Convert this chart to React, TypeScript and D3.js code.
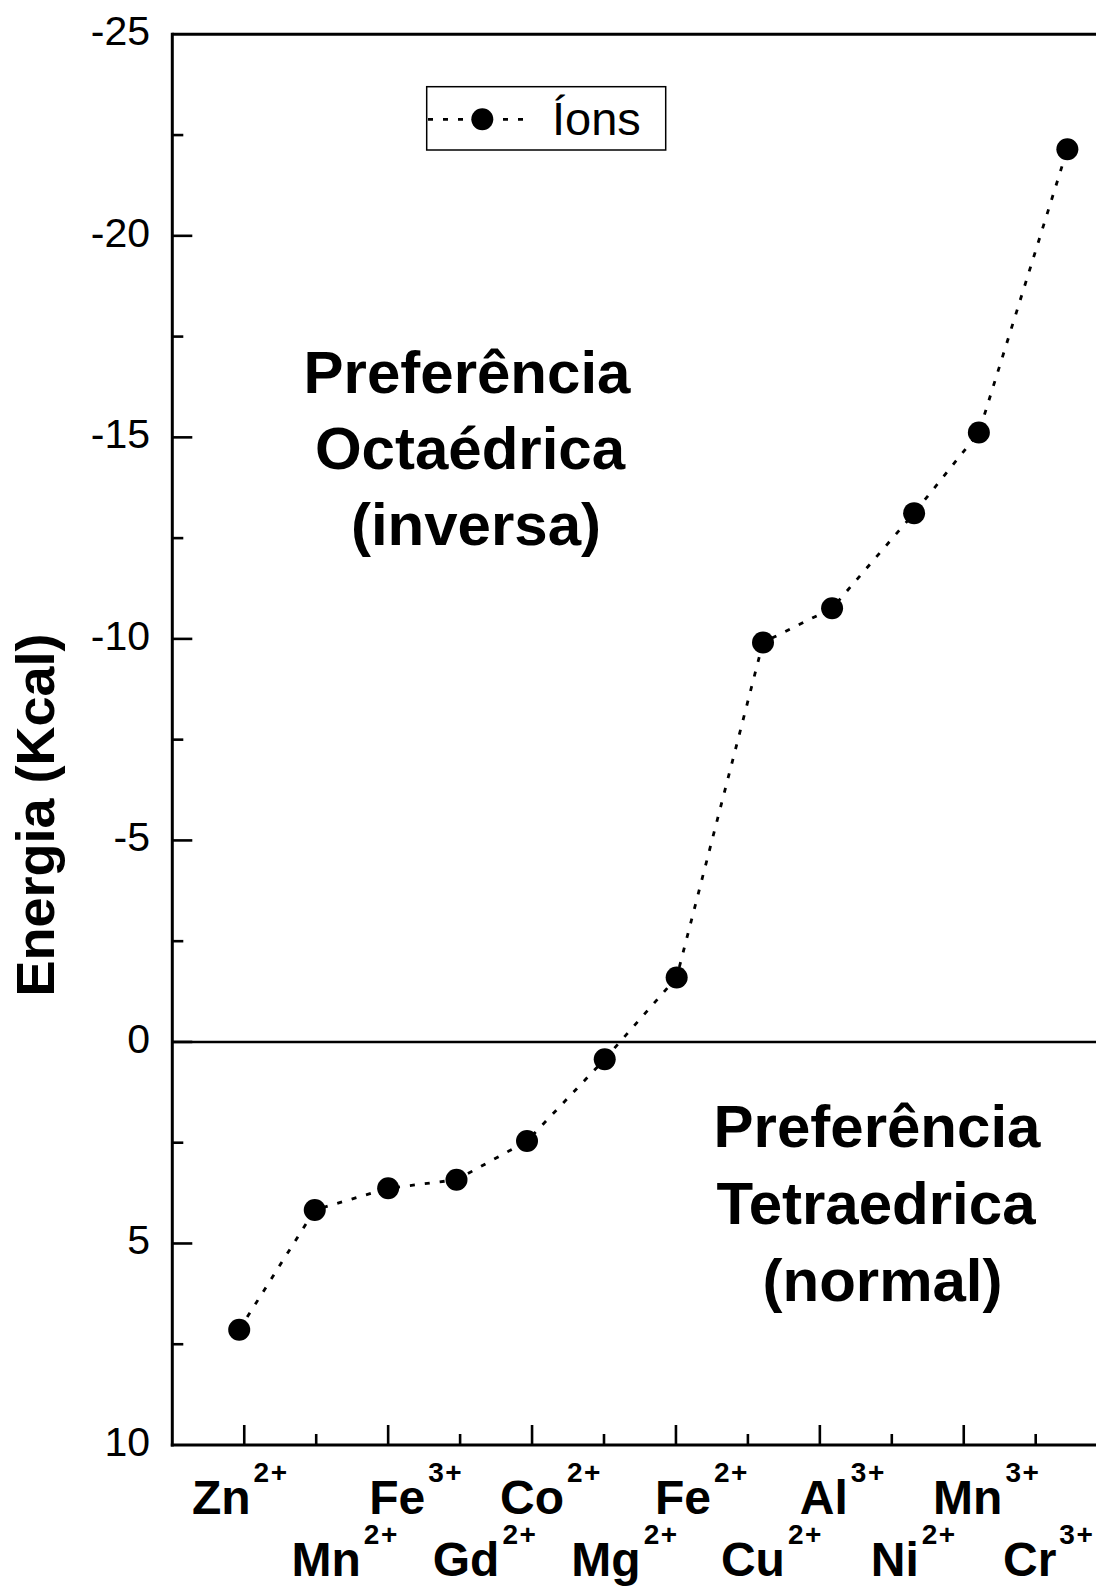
import React from "react";
import * as d3 from "d3";

// ---- data ----
const ionNames = ["Zn", "Mn", "Fe", "Gd", "Co", "Mg", "Fe", "Cu", "Al", "Ni", "Mn", "Cr"];
const ionCharges = ["2+", "2+", "3+", "2+", "2+", "2+", "2+", "2+", "3+", "2+", "3+", "3+"];
const ionX = [0.93, 1.98, 3.0, 3.95, 4.93, 6.01, 7.01, 8.21, 9.17, 10.31, 11.21, 12.44];
const energy = [7.14, 4.17, 3.63, 3.42, 2.46, 0.43, -1.6, -9.91, -10.76, -13.12, -15.12, -22.15];
const labelTicks = [1, 2, 3, 4, 5, 6, 7, 8, 9, 10, 11, 12];
const yMajorTicks = [-25, -20, -15, -10, -5, 0, 5, 10];
const yMinorTicks = [-22.5, -17.5, -12.5, -7.5, -2.5, 2.5, 7.5];
const xMajorTicks = [1, 3, 5, 7, 9, 11];
const xMinorTicks = [2, 4, 6, 8, 10, 12];
const seriesName = "Íons";
const yTitle = "Energia (Kcal)";
const upperText = ["Preferência", "Octaédrica", "(inversa)"];
const lowerText = ["Preferência", "Tetraedrica", "(normal)"];

// ---- layout (pixels) ----
const W = 1096;
const H = 1586;
const left = 172.3;
const top = 34.3;
const bottom = 1445;
const unitX = 71.95;
const labelNudge = [-23, 10, 9, 6, 0, 2, 7, 5, 4, 3, 4, -6];
const FONT = "'Liberation Sans', Arial, Helvetica, sans-serif";

export default function App() {
  const x = d3.scaleLinear().domain([0, 13]).range([left, left + 13 * unitX]);
  const y = d3.scaleLinear().domain([-25, 10]).range([top, bottom]);
  const right = x(13);

  const pts = ionX.map((xv, i) => [x(xv), y(energy[i])] as [number, number]);
  const line = d3.line<[number, number]>()(pts) || "";

  return (
    <div style={{ position: "absolute", left: 0, top: 0, width: W, height: H, overflow: "hidden" }}>
      <svg width={W} height={H} style={{ display: "block", background: "#fff" }} fontFamily={FONT}>
        {/* frame */}
        <line x1={left} x2={right} y1={top} y2={top} stroke="#000" strokeWidth={3} />
        <line x1={right} x2={right} y1={top} y2={bottom} stroke="#000" strokeWidth={3} />
        <line x1={left} x2={right} y1={bottom} y2={bottom} stroke="#000" strokeWidth={3} strokeLinecap="square" />
        <line x1={left} x2={left} y1={top} y2={bottom} stroke="#000" strokeWidth={3} strokeLinecap="square" />

        {/* zero line */}
        <line x1={left} x2={right} y1={y(0)} y2={y(0)} stroke="#000" strokeWidth={2.6} />

        {/* y ticks */}
        {yMajorTicks.map((t) => (
          <g key={"ym" + t}>
            {t !== -25 && t !== 10 && (
              <line x1={left} x2={left + 20} y1={y(t)} y2={y(t)} stroke="#000" strokeWidth={2.6} />
            )}
            <text x={150} y={y(t) + 11} textAnchor="end" fontSize={41} fill="#000">
              {t}
            </text>
          </g>
        ))}
        {yMinorTicks.map((t) => (
          <line key={"yn" + t} x1={left} x2={left + 11} y1={y(t)} y2={y(t)} stroke="#000" strokeWidth={2.6} />
        ))}

        {/* x ticks */}
        {xMajorTicks.map((t) => (
          <line key={"xm" + t} x1={x(t)} x2={x(t)} y1={bottom} y2={bottom - 20} stroke="#000" strokeWidth={2.6} />
        ))}
        {xMinorTicks.map((t) => (
          <line key={"xn" + t} x1={x(t)} x2={x(t)} y1={bottom} y2={bottom - 11} stroke="#000" strokeWidth={2.6} />
        ))}

        {/* x labels */}
        {ionNames.map((n, i) => {
          const row = i % 2;
          const by = row === 0 ? 1514 : 1576;
          return (
            <text
              key={"lab" + i}
              x={x(labelTicks[i]) + labelNudge[i]}
              y={by}
              textAnchor="middle"
              fontWeight="bold"
              fontSize={48}
              fill="#000"
            >
              {n}
            </text>
          );
        })}
        {ionNames.map((n, i) => {
          const row = i % 2;
          const by = row === 0 ? 1514 : 1576;
          const cx = x(labelTicks[i]) + labelNudge[i];
          return <SupAfter key={"sup" + i} base={n} cx={cx} by={by} sup={ionCharges[i]} />;
        })}

        {/* series */}
        <path d={line} fill="none" stroke="#000" strokeWidth={2.8} strokeDasharray="5,10" />
        {pts.map((p, i) => (
          <circle key={"pt" + i} cx={p[0]} cy={p[1]} r={11} fill="#000" />
        ))}

        {/* annotations */}
        {upperText.map((t, i) => (
          <text
            key={"up" + i}
            x={[467, 470, 476][i]}
            y={393 + i * 76}
            textAnchor="middle"
            fontWeight="bold"
            fontSize={60}
            fill="#000"
          >
            {t}
          </text>
        ))}
        {lowerText.map((t, i) => (
          <text
            key={"lo" + i}
            x={[877, 876, 882.5][i]}
            y={1147 + i * 77}
            textAnchor="middle"
            fontWeight="bold"
            fontSize={60}
            fill="#000"
          >
            {t}
          </text>
        ))}

        {/* y title */}
        <text
          transform={`translate(53.5, 815) rotate(-90)`}
          textAnchor="middle"
          fontWeight="bold"
          fontSize={54}
          fill="#000"
        >
          {yTitle}
        </text>

        {/* legend */}
        <rect x={426.7} y={86.7} width={239} height={63.3} fill="#fff" stroke="#000" strokeWidth={1.5} />
        <line x1={428} x2={530} y1={119.3} y2={119.3} stroke="#000" strokeWidth={2.8} strokeDasharray="5,10" />
        <circle cx={482.3} cy={119.3} r={11} fill="#000" />
        <text x={552} y={135} fontSize={47} fill="#000">
          {seriesName}
        </text>
      </svg>
    </div>
  );
}

function SupAfter({ base, cx, by, sup }: { base: string; cx: number; by: number; sup: string }) {
  const ref = React.useRef<SVGTextElement>(null);
  const [pos, setPos] = React.useState<number | null>(null);
  React.useLayoutEffect(() => {
    const svg = ref.current?.ownerSVGElement;
    if (!svg) return;
    const t = document.createElementNS("http://www.w3.org/2000/svg", "text");
    t.setAttribute("font-size", "48");
    t.setAttribute("font-weight", "bold");
    t.setAttribute("font-family", FONT);
    t.textContent = base;
    svg.appendChild(t);
    const w = t.getComputedTextLength();
    svg.removeChild(t);
    setPos(cx + w / 2 + 3);
  }, [base, cx]);
  return (
    <text
      ref={ref}
      x={pos ?? cx}
      y={by - 32}
      fontWeight="bold"
      fontSize={28}
      letterSpacing={1.5}
      fill="#000"
      visibility={pos === null ? "hidden" : "visible"}
    >
      {sup}
    </text>
  );
}
